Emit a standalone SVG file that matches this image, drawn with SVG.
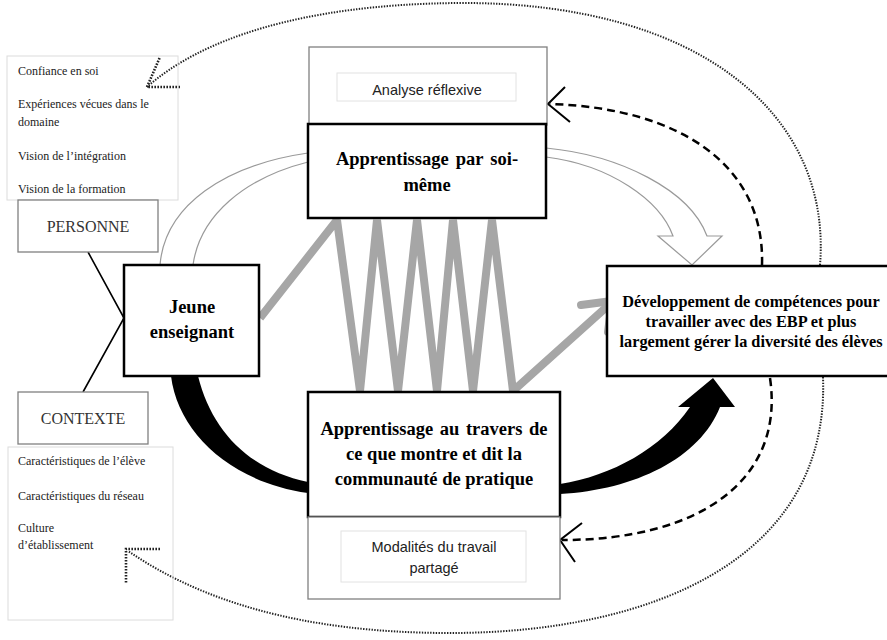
<svg xmlns="http://www.w3.org/2000/svg" width="887" height="640" viewBox="0 0 887 640">
<style>
.list{fill:none;stroke:#dcdcdc;stroke-width:1}
.lt{font-family:"Liberation Serif",serif;font-size:12px;fill:#222}
.gbox{fill:#fff;stroke:#808080;stroke-width:1.3}
.gt{font-family:"Liberation Serif",serif;font-size:16px;fill:#333;text-anchor:middle}
.main{fill:#fff;stroke:#000;stroke-width:2.5}
.mt{font-family:"Liberation Serif",serif;font-weight:bold;font-size:18.5px;fill:#000;text-anchor:middle}
.dt{font-family:"Liberation Serif",serif;font-weight:bold;font-size:16.3px;fill:#000;text-anchor:middle}
.ibox{fill:#fff;stroke:#e2e2e2;stroke-width:1}
.st{font-family:"Liberation Sans",Arial,sans-serif;font-size:14.5px;fill:#222;text-anchor:middle}
.dot{fill:none;stroke:#222;stroke-width:2;stroke-dasharray:1.4 1.4}
.doth{fill:none;stroke:#222;stroke-width:2.6;stroke-dasharray:1.6 1.4}
.dash{fill:none;stroke:#000;stroke-width:2.5;stroke-dasharray:8 5}
.vhead{fill:none;stroke:#000;stroke-width:2}
</style>

<g id="connectors">
  <!-- dotted outer loops -->
  <path class="dot" d="M 820 265 C 832 115, 700 2, 460 3 C 300 4, 200 40, 147 87"/>
  <path class="doth" d="M 180 87 L 147 87 L 160 57"/>
  <path class="dot" d="M 823 377 C 830 560, 650 633, 450 633 C 300 633, 200 600, 128 551"/>
  <path class="doth" d="M 160 549 L 126 549 L 126 583"/>
  <!-- dashed feedback -->
  <path class="dash" d="M 762 265 C 765 165, 680 108, 550 104"/>
  <path class="vhead" d="M 565 87 L 548 104 L 570 122"/>
  <path class="dash" d="M 770 378 C 785 480, 700 540, 562 540"/>
  <path class="vhead" d="M 582 523 L 560 540 L 575 562"/>
  <!-- person/context links -->
  <path d="M 88 252 L 124 318 L 83 392" fill="none" stroke="#000" stroke-width="1.6"/>
  <!-- outlined curved band arrow -->
  <path d="M 160 265 C 165 205, 225 165, 308 153 M 193 265 C 200 215, 245 178, 308 162" fill="none" stroke="#9a9a9a" stroke-width="1.2"/>
  <path d="M 546 148 C 620 155, 690 190, 707 236 L 722 236 L 692 265 L 658 236 L 673 236 C 660 200, 610 165, 546 157" fill="#fff" stroke="#9a9a9a" stroke-width="1.2"/>
  <!-- black thick arrows -->
  <path d="M 171 376 C 178 432, 230 482, 308 493 L 308 482 C 250 470, 212 432, 198 376 Z" fill="#000"/>
  <path d="M 560 484 C 612 476, 662 448, 690 407 L 678 407 L 713 378 L 735 407 L 720 407 C 700 458, 635 490, 560 494 Z" fill="#000"/>
  <!-- gray zigzag -->
  <polyline points="260,318 337,220 360,391 377,220 398,391 417,220 437,391 453,220 473,391 492,220 513,391 611,303" fill="none" stroke="#a6a6a6" stroke-width="8" stroke-linejoin="bevel"/>
  <polyline points="581,305 612,301 608,332" fill="none" stroke="#a6a6a6" stroke-width="8" stroke-linecap="round" stroke-linejoin="round"/>
</g>

<g id="personne-list">
  <rect class="list" x="7" y="56" width="171" height="144"/>
  <text class="lt" x="18" y="75">Confiance en soi</text>
  <text class="lt" x="18" y="108">Expériences vécues dans le</text>
  <text class="lt" x="18" y="126">domaine</text>
  <text class="lt" x="18" y="160">Vision de l’intégration</text>
  <text class="lt" x="18" y="193">Vision de la formation</text>
</g>

<g id="personne">
  <rect class="gbox" x="18" y="200" width="140" height="52"/>
  <text class="gt" x="88" y="232">PERSONNE</text>
</g>

<g id="contexte">
  <rect class="gbox" x="18" y="392" width="130" height="52"/>
  <text class="gt" x="83" y="424">CONTEXTE</text>
</g>

<g id="contexte-list">
  <rect class="list" x="8" y="447" width="165" height="173"/>
  <text class="lt" x="18" y="465">Caractéristiques  de l’élève</text>
  <text class="lt" x="18" y="500">Caractéristiques  du réseau</text>
  <text class="lt" x="18" y="532">Culture</text>
  <text class="lt" x="18" y="549">d’établissement</text>
</g>

<g id="jeune-enseignant">
  <rect class="main" x="124" y="265" width="135" height="111"/>
  <text class="mt" x="192" y="313">Jeune</text>
  <text class="mt" x="192" y="338">enseignant</text>
</g>

<g id="analyse-reflexive">
  <rect class="gbox" x="309" y="47" width="238" height="78"/>
  <rect class="ibox" x="337" y="73" width="179" height="28"/>
  <text class="st" x="427" y="95">Analyse réflexive</text>
</g>

<g id="apprentissage-soi">
  <rect class="main" x="308" y="124" width="238" height="94"/>
  <text class="mt" x="427" y="165" word-spacing="2.5">Apprentissage par soi-</text>
  <text class="mt" x="427" y="191">même</text>
</g>

<g id="apprentissage-communaute">
  <rect class="main" x="308" y="392" width="252" height="125"/>
  <text class="mt" x="434" y="435" word-spacing="2">Apprentissage au travers de</text>
  <text class="mt" x="434" y="460">ce que montre et dit la</text>
  <text class="mt" x="434" y="485">communauté de pratique</text>
</g>

<g id="modalites">
  <rect class="gbox" x="308" y="517" width="252" height="82"/>
  <rect class="ibox" x="341" y="531" width="185" height="51"/>
  <text class="st" x="434" y="552">Modalités du travail</text>
  <text class="st" x="434" y="573">partagé</text>
</g>

<g id="developpement">
  <rect class="main" x="607" y="266" width="292" height="110"/>
  <text class="dt" x="751" y="307">Développement de compétences pour</text>
  <text class="dt" x="751" y="327">travailler avec des EBP et plus</text>
  <text class="dt" x="751" y="347">largement gérer la diversité des élèves</text>
</g>
</svg>
